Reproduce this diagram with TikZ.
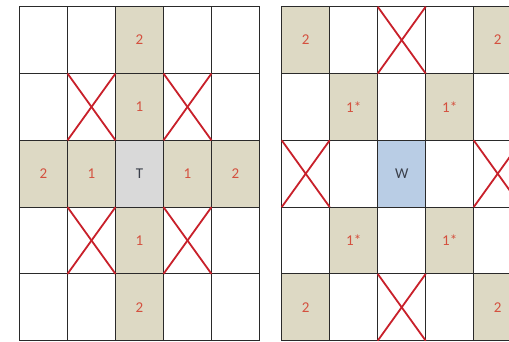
\documentclass[tikz,border=0pt]{standalone}
\usepackage{fontspec}
\setmainfont{Carlito}
\definecolor{tanc}{HTML}{DDD9C4}
\definecolor{grayc}{HTML}{D9D9D9}
\definecolor{bluec}{HTML}{B9CDE5}
\definecolor{xred}{HTML}{C8202A}
\definecolor{numred}{HTML}{D4503E}
\definecolor{gridc}{HTML}{2A2A2A}
\definecolor{letterc}{HTML}{3A3F4A}
\tikzset{
  cell/.style={inner sep=0pt, outer sep=0pt, minimum width=48pt, minimum height=66.8pt,
    font=\fontsize{15}{15}\selectfont, text=numred, node contents={}},
  tancell/.style={fill=tanc},
  gridline/.style={draw=gridc, line width=0.9pt},
  xline/.style={draw=xred, line width=1.8pt},
  % left grid
  L-0-2/.style={tancell, node contents=2},
  L-1-2/.style={tancell, node contents=1},
  L-2-0/.style={tancell, node contents=2},
  L-2-1/.style={tancell, node contents=1},
  L-2-2/.style={fill=grayc, text=letterc, node contents=T},
  L-2-3/.style={tancell, node contents=1},
  L-2-4/.style={tancell, node contents=2},
  L-3-2/.style={tancell, node contents=1},
  L-4-2/.style={tancell, node contents=2},
  % right grid
  R-0-0/.style={tancell, node contents=2},
  R-0-4/.style={tancell, node contents=2},
  R-1-1/.style={tancell, node contents=1*},
  R-1-3/.style={tancell, node contents=1*},
  R-2-2/.style={fill=bluec, text=letterc, node contents=W},
  R-3-1/.style={tancell, node contents=1*},
  R-3-3/.style={tancell, node contents=1*},
  R-4-0/.style={tancell, node contents=2},
  R-4-4/.style={tancell, node contents=2},
}
\begin{document}
\begin{tikzpicture}[x=1pt,y=-1pt]
\useasboundingbox (0,0) rectangle (509,341);
\clip (0,0) rectangle (509,341);
\foreach \r in {0,...,4}{
  \foreach \c in {0,...,4}{
    \node (L-\r-\c) at ({19.5+24+48*\c},{6.7+33.4+66.8*\r}) [cell, L-\r-\c/.try];
    \node (R-\r-\c) at ({281.7+24+48*\c},{6.7+33.4+66.8*\r}) [cell, R-\r-\c/.try];
  }
}
\foreach \r in {0,...,4}{
  \foreach \c in {0,...,4}{
    \draw[gridline] (L-\r-\c.north west) rectangle (L-\r-\c.south east);
    \draw[gridline] (R-\r-\c.north west) rectangle (R-\r-\c.south east);
  }
}
\foreach \n in {L-1-1,L-1-3,L-3-1,L-3-3,R-0-2,R-2-0,R-2-4,R-4-2}{
  \draw[xline] (\n.north west) -- (\n.south east);
  \draw[xline] (\n.south west) -- (\n.north east);
}
\end{tikzpicture}
\end{document}
